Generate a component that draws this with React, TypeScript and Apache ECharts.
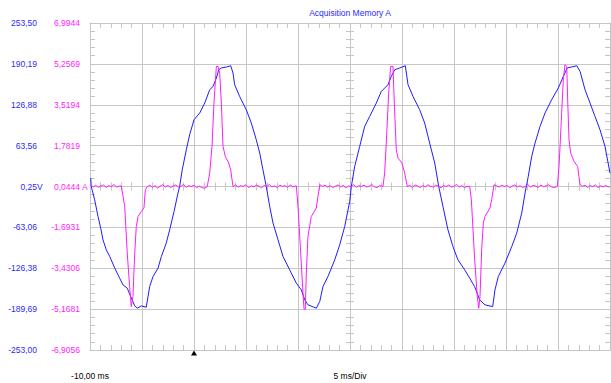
import React, { useEffect, useRef } from 'react';
import * as echarts from 'echarts';

// ---------------- data ----------------
const titleText = 'Acquisition Memory A';
const startLabel = '-10,00 ms';
const timebaseLabel = '5 ms/Div';
const timeRange = [-10, 40]; // ms
const timePerDiv = 5; // ms
const triggerTime = 0; // ms
const voltRange = [-253.0, 253.5]; // V
const currentRange = [-6.9056, 6.9944]; // A
const voltTickLabels = ['-253,00', '-189,69', '-126,38', '-63,06', '0,25', '63,56', '126,88', '190,19', '253,50'];
const currentTickLabels = ['-6,9056', '-5,1681', '-3,4306', '-1,6931', '0,0444', '1,7819', '3,5194', '5,2569', '6,9944'];
const voltUnit = 'V';
const currentUnit = ' A';

// voltage trace [ms, V]
const voltage: [number, number][] = [
  [-9.93, 13.3], [-9.88, 0.3], [-9.55, -20.4], [-9.23, -46.2], [-8.97, -64.2], [-8.75, -82.4], [-8.43, -97.9],
  [-8.10, -108.2], [-7.62, -126.2], [-7.15, -141.7], [-6.83, -152.1], [-6.42, -157.2], [-6.09, -170.2],
  [-5.87, -178.0], [-5.70, -184.7], [-5.45, -188.2], [-5.07, -184.7], [-4.59, -186.7], [-4.42, -170.2],
  [-4.26, -154.7], [-3.94, -139.2], [-3.46, -126.2], [-3.14, -108.2], [-2.67, -87.5], [-2.34, -66.9],
  [-1.92, -38.5], [-1.54, -10.0], [-1.38, 0.3], [-1.13, 26.1], [-0.74, 57.1], [-0.42, 80.4], [0.0, 103.6],
  [0.55, 114.0], [1.03, 129.5], [1.51, 150.1], [1.83, 155.2], [2.15, 168.3], [2.38, 181.1], [2.63, 183.8],
  [3.11, 185.3], [3.53, 187.3], [3.75, 176.0], [3.91, 157.9], [4.39, 139.7], [5.03, 119.1], [5.51, 98.5],
  [5.99, 72.6], [6.32, 52.0], [6.63, 26.1], [6.95, 0.3], [7.28, -30.8], [7.60, -56.5], [8.08, -82.4],
  [8.56, -108.2], [9.20, -128.9], [9.84, -149.5], [10.32, -159.9], [10.65, -175.4], [10.96, -183.1],
  [11.76, -188.2], [12.09, -178.0], [12.40, -154.7], [12.88, -139.2], [13.53, -113.4], [14.01, -90.1],
  [14.49, -61.8], [14.97, -23.0], [15.13, 0.3], [15.45, 31.3], [15.93, 62.3], [16.41, 93.2], [16.89, 108.7],
  [17.53, 129.5], [18.01, 147.5], [18.65, 157.9], [18.97, 170.7], [19.30, 181.1], [19.78, 183.8], [20.32, 187.3],
  [20.58, 157.9], [21.06, 139.7], [21.70, 119.1], [22.18, 98.5], [22.66, 67.5], [23.15, 36.5], [23.53, 0.3],
  [23.94, -30.8], [24.42, -66.9], [24.90, -92.8], [25.38, -113.4], [26.03, -128.9], [26.51, -141.7],
  [26.98, -154.7], [27.47, -175.4], [27.98, -183.1], [28.72, -185.8], [28.94, -159.9], [29.26, -139.2],
  [29.90, -118.5], [30.55, -92.8], [31.03, -72.0], [31.51, -41.0], [31.83, -10.0], [32.14, 15.8], [32.47, 46.8],
  [32.79, 67.5], [33.27, 93.2], [33.75, 114.0], [34.39, 134.6], [35.03, 152.8], [35.51, 170.7], [35.89, 183.8],
  [36.80, 187.3], [37.12, 178.5], [37.60, 150.1], [38.08, 129.5], [38.56, 108.7], [39.04, 88.1], [39.52, 62.3],
  [40.0, 21.0],
];

// current trace [ms, A]
const current: [number, number][] = [
  [-9.93, 0.12], [-9.7, 0.03], [-9.45, 0.09], [-9.2, 0.01], [-8.95, 0.07], [-8.7, 0.11], [-8.45, 0.0], [-8.2, 0.08],
  [-7.95, 0.04], [-7.7, 0.13], [-7.45, 0.02], [-7.2, 0.06], [-6.99, 0.07],
  [-6.66, -0.81], [-6.42, -2.78], [-6.19, -4.21], [-6.03, -5.06], [-5.87, -4.63], [-5.70, -2.79], [-5.55, -1.66],
  [-5.38, -1.23], [-5.07, -1.02], [-4.81, -0.87], [-4.68, -0.10],
  [-4.49, 0.04], [-4.25, 0.10], [-4.0, 0.01], [-3.75, 0.08], [-3.5, -0.02], [-3.25, 0.06], [-3.0, 0.12], [-2.75, 0.03],
  [-2.5, 0.09], [-2.25, 0.0], [-2.0, 0.07], [-1.75, 0.11], [-1.5, 0.02], [-1.25, 0.05], [-1.0, 0.13], [-0.75, 0.01],
  [-0.5, 0.08], [-0.25, 0.04], [0.0, 0.10], [0.25, -0.01], [0.5, 0.06], [0.75, 0.0], [1.0, -0.03], [1.27, 0.04],
  [1.51, 0.61], [1.73, 1.75], [1.92, 3.59], [2.15, 5.15], [2.31, 5.15], [2.47, 4.87], [2.63, 3.59], [2.79, 1.75],
  [3.01, 1.32], [3.34, 1.04], [3.53, 0.75],
  [3.75, 0.04], [4.0, 0.11], [4.25, 0.02], [4.5, 0.08], [4.75, 0.05], [5.0, 0.12], [5.25, 0.0], [5.5, 0.07],
  [5.75, 0.03], [6.0, 0.10], [6.25, 0.06], [6.5, -0.01], [6.75, 0.09], [7.0, 0.04], [7.25, 0.13], [7.5, 0.02],
  [7.75, 0.07], [8.0, 0.0], [8.25, 0.10], [8.5, 0.05], [8.75, 0.08], [9.0, 0.01], [9.25, 0.11], [9.5, 0.03], [9.84, 0.07],
  [10.0, -0.81], [10.26, -2.79], [10.48, -4.49], [10.58, -5.17], [10.70, -5.17], [10.80, -3.64], [10.96, -2.08],
  [11.28, -1.23], [11.76, -0.87], [11.92, -0.38],
  [12.09, 0.12], [12.35, 0.05], [12.6, 0.10], [12.85, 0.02], [13.1, 0.08], [13.35, 0.0], [13.6, 0.06], [13.85, 0.11],
  [14.1, 0.03], [14.35, 0.09], [14.6, -0.02], [14.85, 0.07], [15.1, 0.04], [15.35, 0.12], [15.6, 0.01], [15.85, 0.08],
  [16.1, 0.05], [16.35, 0.10], [16.6, 0.02], [16.85, 0.06], [17.1, 0.13], [17.35, 0.03], [17.6, 0.0], [17.85, 0.08],
  [18.17, 0.05],
  [18.33, 0.61], [18.49, 1.89], [18.72, 4.02], [18.91, 5.15], [19.13, 5.15], [19.30, 3.17], [19.45, 1.61],
  [19.62, 1.25], [20.0, 1.04], [20.26, 0.61],
  [20.51, 0.04], [20.75, 0.09], [21.0, 0.01], [21.25, 0.11], [21.5, 0.06], [21.75, 0.0], [22.0, 0.08], [22.25, 0.03],
  [22.5, 0.12], [22.75, 0.05], [23.0, 0.02], [23.25, 0.10], [23.5, 0.07], [23.75, -0.01], [24.0, 0.09], [24.25, 0.04],
  [24.5, 0.11], [24.75, 0.02], [25.0, 0.06], [25.25, 0.13], [25.5, 0.03], [25.75, 0.08], [26.0, 0.0], [26.25, 0.05],
  [26.51, 0.04],
  [26.67, -0.52], [26.83, -1.80], [26.99, -3.07], [27.24, -4.63], [27.38, -5.13], [27.50, -4.63], [27.66, -2.65],
  [27.82, -1.51], [27.98, -1.23], [28.46, -0.87], [28.62, -0.52],
  [28.85, 0.12], [29.1, 0.07], [29.35, 0.02], [29.6, 0.10], [29.85, 0.04], [30.1, 0.09], [30.35, -0.01], [30.6, 0.06],
  [30.85, 0.11], [31.1, 0.03], [31.35, 0.08], [31.6, 0.0], [31.85, 0.05], [32.1, 0.13], [32.35, 0.02], [32.6, 0.09],
  [32.85, 0.06], [33.1, 0.01], [33.35, 0.10], [33.6, 0.04], [33.85, 0.07], [34.1, 0.12], [34.35, 0.03], [34.6, 0.0],
  [34.93, 0.04],
  [35.10, 0.90], [35.29, 2.60], [35.51, 4.58], [35.67, 5.22], [35.84, 5.15], [35.93, 3.73], [36.06, 2.03],
  [36.22, 1.46], [36.54, 1.11], [36.89, 0.90],
  [37.12, 0.12], [37.35, 0.05], [37.6, 0.10], [37.85, 0.01], [38.1, 0.08], [38.35, 0.04], [38.6, 0.11], [38.85, 0.0],
  [39.1, 0.07], [39.35, 0.03], [39.6, 0.09], [39.85, 0.02], [40.0, 0.05],
];

// ---------------- styles ----------------
const FONT = '"Liberation Sans", Arial, Helvetica, sans-serif';
const LABEL_BLUE = '#2a2aff';
const TRACE_BLUE = '#1c1cff';
const MAGENTA = '#ff1cff';
const GRID = '#c6c6c6';
const DIV_HALF = (voltTickLabels.length - 1) / 2; // 4 divisions each side of centre

const divAxis = (extra: any) => ({
  type: 'value',
  min: -DIV_HALF,
  max: DIV_HALF,
  interval: 1,
  axisLine: { show: false, onZero: false },
  axisTick: { show: false },
  minorTick: { show: false },
  splitLine: { show: false },
  axisLabel: { show: false },
  ...extra,
});

const timeAxis = (extra: any) => ({
  type: 'value',
  min: timeRange[0],
  max: timeRange[1],
  interval: timePerDiv,
  axisLine: { show: false, onZero: false },
  axisTick: { show: false },
  minorTick: { show: false },
  splitLine: { show: false },
  axisLabel: { show: false },
  ...extra,
});

const minor = (length: number) => ({ show: true, splitNumber: 5, length, lineStyle: { color: GRID, width: 1 } });
const border = { show: true, onZero: false, lineStyle: { color: GRID, width: 1 } };

// left scale labels: right-aligned numbers; on the centre label the unit
// is a near-zero-width token so it sticks out to the right, like on the scope.
const scaleLabel = (labels: string[], unit: string, color: string, margin: number) => ({
  show: true,
  margin,
  color,
  fontSize: 8.5,
  fontFamily: FONT,
  formatter: (v: number) => {
    const i = Math.round(v) + DIV_HALF;
    return i === DIV_HALF ? `{n|${labels[i]}}{u|${unit}}` : labels[i];
  },
  rich: {
    n: { color, fontSize: 8.5, fontFamily: FONT, align: 'left' },
    u: { color, fontSize: 8.5, fontFamily: FONT, align: 'left', width: 0.01 },
  },
});

export default function App() {
  const ref = useRef<HTMLDivElement>(null);

  useEffect(() => {
    if (!ref.current) return;
    const chart = echarts.init(ref.current, null, { renderer: 'svg' });
    const option: any = {
      animation: false,
      backgroundColor: '#ffffff',
      title: {
        text: titleText,
        left: 350,
        top: 8,
        padding: 0,
        textAlign: 'center',
        textStyle: { color: LABEL_BLUE, fontSize: 8.5, fontWeight: 'normal', fontFamily: FONT },
      },
      grid: { left: 90, right: 1, top: 23, bottom: 33, outerBoundsMode: 'none', containLabel: false },
      xAxis: [
        timeAxis({
          position: 'bottom',
          axisLine: border,
          axisTick: { show: false, inside: true },
          minorTick: minor(5),
          splitLine: { show: true, lineStyle: { color: GRID, width: 1 } },
          axisLabel: {
            show: true,
            margin: 21,
            color: '#000',
            fontSize: 8.5,
            fontFamily: FONT,
            formatter: (v: number) => (v === timeRange[0] ? startLabel : ''),
          },
          name: timebaseLabel,
          nameLocation: 'middle',
          nameGap: 21,
          nameMoveOverlap: false,
          nameTextStyle: { color: '#000', fontSize: 8.5, fontFamily: FONT, verticalAlign: 'top' },
        }),
        timeAxis({ position: 'top', axisLine: border, axisTick: { show: false, inside: true }, minorTick: minor(5) }),
        timeAxis({ position: 'bottom', offset: -163.5, axisTick: { show: false, inside: true }, minorTick: minor(4) }),
        timeAxis({ position: 'bottom', offset: -163.5, axisTick: { show: false, inside: false }, minorTick: minor(4) }),
      ],
      yAxis: [
        { type: 'value', min: voltRange[0], max: voltRange[1], show: false, axisLine: { onZero: false } },
        { type: 'value', min: currentRange[0], max: currentRange[1], show: false, axisLine: { onZero: false } },
        divAxis({
          position: 'left',
          axisLine: border,
          axisTick: { show: false, inside: true },
          minorTick: minor(5),
          splitLine: { show: true, lineStyle: { color: GRID, width: 1 } },
          axisLabel: scaleLabel(voltTickLabels, voltUnit, LABEL_BLUE, 53),
        }),
        divAxis({
          position: 'left',
          axisLabel: scaleLabel(currentTickLabels, currentUnit, MAGENTA, 10),
        }),
        divAxis({ position: 'right', axisLine: border, axisTick: { show: false, inside: true }, minorTick: minor(5) }),
        divAxis({ position: 'left', offset: -260, axisTick: { show: false, inside: true }, minorTick: minor(4) }),
        divAxis({ position: 'left', offset: -260, axisTick: { show: false, inside: false }, minorTick: minor(4) }),
      ],
      series: [
        {
          name: 'Voltage',
          type: 'line',
          xAxisIndex: 0,
          yAxisIndex: 0,
          data: voltage,
          showSymbol: false,
          symbol: 'none',
          silent: true,
          lineStyle: { color: TRACE_BLUE, width: 1 },
          itemStyle: { color: TRACE_BLUE },
        },
        {
          name: 'Current',
          type: 'line',
          xAxisIndex: 0,
          yAxisIndex: 1,
          data: current,
          showSymbol: false,
          symbol: 'none',
          silent: true,
          lineStyle: { color: MAGENTA, width: 1 },
          itemStyle: { color: MAGENTA },
          markPoint: {
            silent: true,
            symbol: 'triangle',
            symbolSize: [6, 5],
            symbolOffset: [0, 3],
            itemStyle: { color: '#000' },
            label: { show: false },
            data: [{ coord: [triggerTime, currentRange[0]] }],
          },
        },
      ],
    };
    chart.setOption(option);
    return () => chart.dispose();
  }, []);

  return (
    <div
      ref={ref}
      style={{ position: 'fixed', left: 0, top: 0, width: 611, height: 383, background: '#fff' }}
    />
  );
}
